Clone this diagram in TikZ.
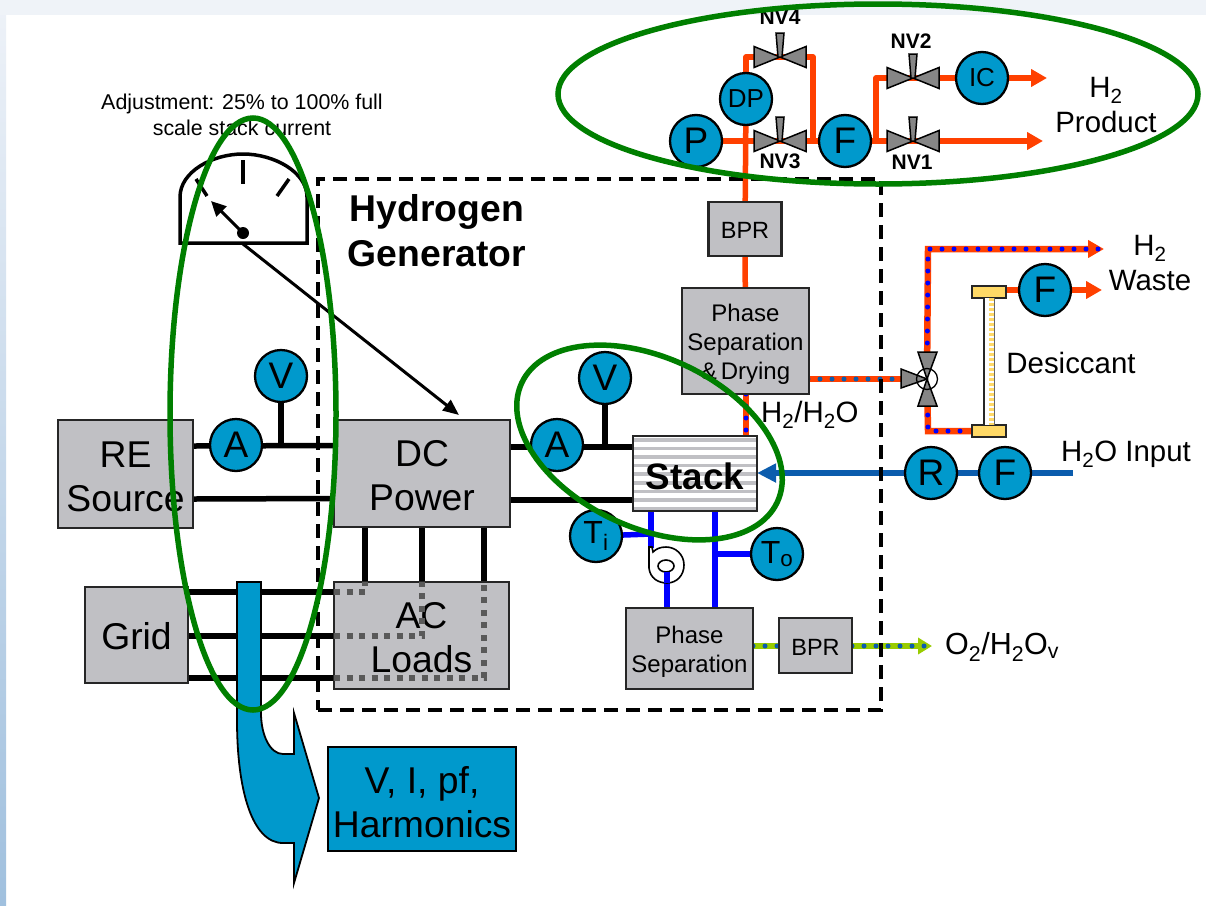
\documentclass[tikz,border=0pt]{standalone}
\usepackage{fontspec}
\setmainfont{Liberation Sans}
\usetikzlibrary{arrows.meta,calc}
\definecolor{boxgray}{HTML}{C0C0C4}
\definecolor{cyanfill}{HTML}{0099CC}
\definecolor{pipeorange}{HTML}{FF4000}
\definecolor{waterblue}{HTML}{0B5CAD}
\definecolor{ringgreen}{HTML}{007F00}
\definecolor{limegreen}{HTML}{99CC00}
\definecolor{capyellow}{HTML}{FFD966}
\definecolor{dotgray}{HTML}{595959}
\pgfdeclarelayer{conn}\pgfdeclarelayer{dash}\pgfdeclarelayer{over}
\pgfsetlayers{conn,dash,main,over}
\newcommand\fs[2]{\fontsize{#1}{#2}\selectfont}
\newcommand\up[1]{\rule{0pt}{#1pt}}
\tikzset{
  x=1pt,y=-1pt,
  graybox/.style={draw=black!85,line width=2.2pt,fill=boxgray,inner sep=0pt,align=center},
  big/.style={font=\fs{37.3}{44}},
  mid/.style={font=\fs{24}{29}},
  sensor/.style={circle,draw=black,line width=2.3pt,fill=cyanfill,minimum size=52pt,inner sep=0pt,font=\fs{37}{40}},
  txtlabel/.style={inner sep=0pt,align=center,font=\fs{29.4}{35}},
  vlabel/.style={inner sep=0pt,font=\fs{21}{22}\bfseries},
  orangepipe/.style={draw=pipeorange,line width=5.5pt},
  mixpipe/.style={draw=pipeorange,line width=6.5pt},
  bluedots/.style={draw=blue,line width=5pt,line cap=round,dash pattern=on 0pt off 12pt},
  limepipe/.style={draw=limegreen,line width=6.5pt},
  tealdots/.style={draw=waterblue,line width=5pt,line cap=round,dash pattern=on 0pt off 12pt},
  bluepipe/.style={draw=blue,line width=5.5pt},
  waterpipe/.style={draw=waterblue,line width=6pt},
  power/.style={draw=black,line width=5.5pt},
  graydots/.style={draw=dotgray,line width=5.5pt,dash pattern=on 6pt off 6.5pt},
  ring/.style={draw=ringgreen,line width=5.5pt},
  bigtip/.style={-{Triangle[length=16pt,width=17pt]}},
  valvepart/.style={draw=black,line width=1.5pt,fill=gray!95,line join=miter},
}
\newcommand\valve[2]{%
  \coordinate (#1) at #2;
  \begin{scope}[shift={#2}]
    \filldraw[valvepart] (0,0) -- (-26,-10.5) -- (-26,10.5) -- cycle;
    \filldraw[valvepart] (0,0) -- (26,-10.5) -- (26,10.5) -- cycle;
    \filldraw[valvepart] (-2,0) -- (-4,-24) -- (4,-24) -- (2,0) -- cycle;
  \end{scope}}
\begin{document}
\begin{tikzpicture}
\useasboundingbox (0,0) rectangle (1206,905);
\begin{pgfonlayer}{conn}
  \fill[white] (0,0) rectangle (1206,905);
  \shade[top color={rgb,255:red,238;green,242;blue,248},bottom color={rgb,255:red,160;green,192;blue,222}] (0,0) rectangle (6,905);
  \fill[fill={rgb,255:red,239;green,243;blue,248}] (0,0) rectangle (1206,15);
\end{pgfonlayer}

% blocks
\node[graybox,big,minimum width=135pt,minimum height=108pt] (re) at (125.5,474) {\up{31}RE\\Source};
\node[graybox,big,minimum width=176pt,minimum height=107pt] (dc) at (422,473.5) {\up{31}DC\\Power};
\node[graybox,big,minimum width=103pt,minimum height=96pt] (grid) at (136.5,635) {\up{29}Grid};
\node[graybox,big,minimum width=175pt,minimum height=107pt] (ac) at (421.5,635.5) {\up{30}AC\\Loads};
\node[graybox,font=\fs{36.8}{44}\bfseries,fill=white,minimum width=124pt,minimum height=75pt,
  path picture={\foreach \i in {0,...,8}{\fill[boxgray] ([yshift=-\i*8.6pt-2pt]path picture bounding box.north west) rectangle +(126pt,-3.6pt);}}] (stack) at (695,473.5) {\up{33}Stack};
\node[graybox,mid,minimum width=127pt,minimum height=106pt] (dry) at (745.5,341) {\up{24}Phase\\Separation\\\&\,Drying};
\node[graybox,font=\fs{23.5}{28},minimum width=73pt,minimum height=54pt] (bpra) at (745,229) {\up{19}BPR};
\node[graybox,mid,minimum width=127pt,minimum height=81pt] (sep) at (689.5,648.5) {\up{24}Phase\\Separation};
\node[graybox,font=\fs{23.5}{28},minimum width=73pt,minimum height=55pt] (bprb) at (815.5,645.5) {\up{19}BPR};
\node[draw=black,line width=2.4pt,fill=cyanfill,big,inner sep=0pt,align=center,minimum width=188pt,minimum height=104pt] (meas) at (422,799) {\up{33}V, I, pf,\\Harmonics};

% sensors
\node[sensor] (P) at (696,141) {P};
\node[sensor,font=\fs{26}{28}] (DP) at (746,99) {DP};
\node[sensor] (Fa) at (845,141) {F};
\node[sensor,font=\fs{26}{28}] (IC) at (982,78) {IC};
\node[sensor] (Fb) at (1045,290) {F};
\node[sensor] (R) at (931,473) {R};
\node[sensor] (Fc) at (1005,473) {F};
\node[sensor] (Aa) at (236,445) {A};
\node[sensor] (Va) at (281,376) {V};
\node[sensor] (Ab) at (557,445) {A};
\node[sensor] (Vb) at (605,378) {V};
\node[sensor,font=\fs{32}{34}] (Ti) at (596,536) {T\textsubscript{i}};
\node[sensor,font=\fs{32}{34}] (To) at (777,554) {T\textsubscript{o}};

% desiccant
\node[draw=black!85,line width=2pt,fill=capyellow,minimum width=34pt,minimum height=12pt,inner sep=0pt] (capt) at (989,292) {};
\node[draw=black!85,line width=2pt,fill=capyellow,minimum width=34pt,minimum height=12pt,inner sep=0pt] (capb) at (989,431) {};
\fill[white] (984,298) rectangle (994,425);
\draw[capyellow,line width=5pt,dash pattern=on 3pt off 2pt] (991.5,298) -- (991.5,425);
\draw[black!85,line width=1.8pt] (984,298) -- (984,425);
\draw[black!60,line width=1pt] (994.5,298) -- (994.5,425);

% three-way valve
\coordinate (tw) at (927,379);
\fill[white] (tw) circle[radius=10.5];
\filldraw[valvepart] (tw) -- (901,369) -- (901,388) -- cycle;
\filldraw[valvepart] (tw) -- (918,352) -- (937,352) -- cycle;
\filldraw[valvepart] (tw) -- (918,406) -- (937,406) -- cycle;
\draw[black,line width=1.3pt] (tw) circle[radius=10.5];

% needle valves
\valve{nvd}{(780,57)}
\valve{nvc}{(780,141)}
\valve{nvb}{(913,78)}
\valve{nva}{(913,141)}
\node[vlabel] (lnvd) at (780,17) {NV4};
\node[vlabel] (lnvc) at (780,161) {NV3};
\node[vlabel] (lnvb) at (911,41) {NV2};
\node[vlabel] (lnva) at (912,162) {NV1};

% gauge
\draw[black,line width=3.5pt,line join=miter] (180,243) -- (180,197) .. controls (180,172) and (212,154) .. (243,154) .. controls (274,154) and (307,172) .. (307,197) -- (307,243) -- cycle;
\draw[black,line width=3.5pt] (243,160) -- (243,184);
\draw[black,line width=3.5pt] (289,179) -- (277,196);
\draw[black,line width=3.5pt] (196,179) -- (207,196);
\node[circle,fill=black,minimum size=12pt,inner sep=0pt] (pivot) at (243,233) {};
\coordinate (needletip) at (211,201);
\coordinate (pivotb) at (243,244);
\coordinate (dcin) at (459,415);
\draw[black,line width=3pt,-{Triangle[length=15pt,width=14pt]}] (pivot.center) -- (needletip);
\draw[black,line width=3pt,-{Triangle[length=16pt,width=13pt]}] (pivotb) -- (dcin);

% labels
\node[inner sep=0pt,align=center,font=\fs{21.4}{26}] (adj) at (242,115) {Adjustment: 25\% to 100\% full\\scale stack current};
\node[inner sep=0pt,align=center,font=\fs{37.3}{45}\bfseries] (hg) at (437,231) {Hydrogen\\Generator};
\node[txtlabel] (h2p) at (1106,105) {H\textsubscript{2}\\Product};
\node[txtlabel] (h2w) at (1150,263) {H\textsubscript{2}\\Waste};
\node[txtlabel] (des) at (1071,363) {Desiccant};
\node[txtlabel,anchor=west] (h2o) at (1061,454) {H\textsubscript{2}O Input};
\node[txtlabel,anchor=west] (h2h) at (761,415) {H\textsubscript{2}/H\textsubscript{2}O};
\node[txtlabel,anchor=west,font=\fs{30.5}{35}] (o2) at (945,647) {O\textsubscript{2}/H\textsubscript{2}O\textsubscript{v}};

\begin{pgfonlayer}{dash}
  \node[draw=black,line width=3.6pt,dash pattern=on 14pt off 8pt,minimum width=563pt,minimum height=531pt,inner sep=0pt] (gen) at (599.5,444.5) {};
\end{pgfonlayer}

\begin{pgfonlayer}{conn}
  % power
  \coordinate (rea) at ($(re.east)+(0,-28)$);
  \coordinate (dca) at ($(dc.west)+(0,-28)$);
  \coordinate (reb) at ($(re.east)+(0,25)$);
  \coordinate (dcb) at ($(dc.west)+(0,25)$);
  \draw[power] (rea) -- (dca);
  \draw[power] (reb) -- (dcb);
  \draw[power] (Va) -- (Va |- rea);
  \coordinate (dcc) at (510,447);
  \coordinate (stc) at (633,447);
  \coordinate (dcd) at (510,500);
  \coordinate (std) at (633,500);
  \draw[power] (dcc) -- (stc);
  \draw[power] (dcd) -- (std);
  \draw[power] (Vb) -- (Vb |- stc);
  \foreach \nm/\xx in {l/365,m/422,r/484}{
    \coordinate (dc\nm) at (\xx,527);
    \coordinate (ac\nm) at (\xx,582);
    \draw[power] (dc\nm) -- (ac\nm);
  }
  \foreach \nm/\yy in {a/592,b/636,c/678}{
    \coordinate (gr\nm) at (188,\yy);
    \coordinate (al\nm) at (334,\yy);
    \draw[power] (gr\nm) -- (al\nm);
  }
  % hydrogen product
  \coordinate (topl) at (746,57);
  \coordinate (topr) at (813,57);
  \coordinate (topj) at (813,141);
  \coordinate (brj) at (876,141);
  \coordinate (brt) at (876,78);
  \coordinate (enda) at (1043,141);
  \coordinate (endb) at (1047,78);
  \draw[orangepipe] (P) -- (nvc) -- (Fa);
  \draw[orangepipe] (bpra) -- (DP);
  \draw[orangepipe] (dry) -- (bpra);
  \draw[orangepipe,line join=round] (DP) -- (topl) -- (nvd) -- (topr) -- (topj);
  \draw[orangepipe,line join=round] (brj) -- (brt) -- (nvb) -- (IC);
  \draw[orangepipe,bigtip] (Fa) -- (enda);
  \draw[orangepipe,bigtip] (IC) -- (endb);
  % hydrogen / water
  \coordinate (dryb) at (746,394);
  \coordinate (stkt) at (746,436);
  \coordinate (dryr) at (808,379);
  \coordinate (wup) at (928,249);
  \coordinate (wend) at (1104,249);
  \coordinate (wdn) at (928,431);
  \draw[mixpipe] (dryb) -- (stkt);
  \draw[bluedots] (dryb) -- (stkt);
  \draw[mixpipe] (dryr) -- (tw);
  \draw[tealdots] (dryr) -- (tw);
  \draw[mixpipe,bigtip,line join=miter] (tw) -- (wup) -- (wend);
  \draw[bluedots] (tw) -- (wup) -- (wend);
  \draw[mixpipe,line join=miter] (tw) -- (wdn) -- (capb);
  \draw[bluedots] (tw) -- (wdn) -- (capb);
  \coordinate (capo) at (1002,290);
  \coordinate (wfend) at (1102,290);
  \draw[orangepipe,bigtip] (capo) -- (wfend);
  % water
  \coordinate (h2oin) at (1073,473);
  \coordinate (stkr) at (757,473);
  \draw[waterpipe,-{Triangle[length=19pt,width=18pt]}] (h2oin) -- (stkr);
  % coolant
  \coordinate (stka) at (651,511);
  \coordinate (pumpt) at (651,548);
  \coordinate (tij) at (651,534);
  \coordinate (pumpb) at (667,570);
  \coordinate (sepp) at (667,608);
  \coordinate (stkb) at (715,511);
  \coordinate (sepq) at (715,608);
  \coordinate (toj) at (715,554);
  \draw[bluepipe] (stka) -- (pumpt);
  \draw[bluepipe] (Ti) -- (tij);
  \draw[bluepipe] (pumpb) -- (sepp);
  \draw[bluepipe] (stkb) -- (sepq);
  \draw[bluepipe] (toj) -- (To);
  % oxygen
  \coordinate (oend) at (932,646);
  \coordinate (sepr) at (753,646);
  \coordinate (bprl) at (779,646);
  \coordinate (bprr) at (852,646);
  \draw[limepipe] (sepr) -- (bprl);
  \draw[tealdots] (sepr) -- (bprl);
  \draw[limepipe,-{Triangle[length=14pt,width=16pt]}] (bprr) -- (oend);
  \draw[tealdots] (bprr) -- (oend);
\end{pgfonlayer}

% pump
\filldraw[fill=white,draw=black,line width=1.6pt] (649,547) -- (649,568) .. controls (650,578) and (658,583) .. (667,583) .. controls (677,583) and (684,575) .. (684,565) .. controls (684,554) and (675,547) .. (666,547) .. controls (660,547) and (656,549) .. (653,552) -- (652,547) -- cycle;
\draw[black,line width=1.6pt] (666,566) ellipse [x radius=8,y radius=6];
\draw[bluepipe] (667,572) -- (667,583);

\begin{pgfonlayer}{over}
  % dotted AC wiring
  \draw[graydots,line join=miter] (ala) -- (dcl |- ala) -- (acl);
  \draw[graydots,line join=miter] (alb) -- (dcm |- alb) -- (acm);
  \draw[graydots,line join=miter] (alc) -- (dcr |- alc) -- (acr);
  % measurement arrow
  \filldraw[fill=cyanfill,draw=black,line width=1.8pt,line join=miter] (237,582) -- (261,582) -- (261,713) .. controls (261,735) and (270,754) .. (283,754) -- (294,754) -- (294,713) -- (319,798) -- (294,883) -- (294,843) -- (283,843) .. controls (252,843) and (237,790) .. (237,720) -- cycle;
  % rings
  \draw[ring] (878,94) ellipse [x radius=320,y radius=90];
  \draw[ring] (253,414) ellipse [x radius=83,y radius=296];
  \draw[ring,rotate around={-25:(649.5,442.5)}] (649.5,442.5) ellipse [x radius=141,y radius=85];
\end{pgfonlayer}
\end{tikzpicture}
\end{document}
